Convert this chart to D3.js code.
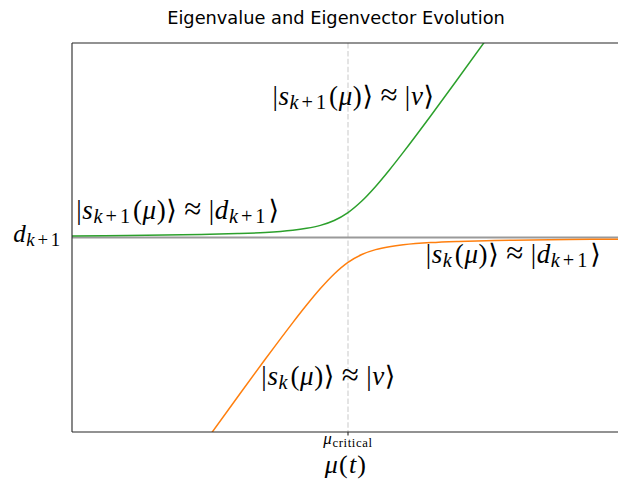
<!DOCTYPE html>
<html>
<head>
<meta charset="utf-8">
<script src="https://cdn.jsdelivr.net/npm/d3@7"></script>
<style>
  html, body { margin: 0; padding: 0; background: #fff; }
  svg { display: block; }
</style>
</head>
<body>
<svg id="chart" width="618" height="479"></svg>
<script>
// Coupling parameter samples and the two eigenvalue branches around the avoided crossing
const mu = [0, 1, 2, 2.5, 3, 3.5, 4, 4.25, 4.5, 4.75, 5, 5.25, 5.5, 5.75, 6, 6.5, 7, 7.5, 8, 9, 10];
const upperBranch = [0.0082, 0.0102, 0.0135, 0.0161, 0.0200, 0.0262, 0.0375, 0.0472, 0.0624, 0.0874, 0.128,
                     0.1874, 0.2624, 0.3472, 0.4375, 0.6262, 0.8200, 1.0161, 1.2135, 1.6102, 2.0082];
const lowerBranch = [-2.0082, -1.6102, -1.2135, -1.0161, -0.8200, -0.6262, -0.4375, -0.3472, -0.2624, -0.1874, -0.128,
                     -0.0874, -0.0624, -0.0472, -0.0375, -0.0262, -0.0200, -0.0161, -0.0135, -0.0102, -0.0082];
const dLevel = 0;          // unperturbed eigenvalue d_{k+1}
const muCritical = 5;      // centre of the avoided crossing
const xDomain = [0, 10];
const yDomain = [-1, 1];

const svg = d3.select("#chart");
const plot = { left: 72, right: 624, top: 43, bottom: 432 };

const x = d3.scaleLinear().domain(xDomain).range([plot.left, plot.right]);
const y = d3.scaleLinear().domain(yDomain).range([plot.bottom, plot.top]);

const serif = "'Liberation Serif', 'DejaVu Serif', serif";
const sans = "'DejaVu Sans', sans-serif";

// clip region for the plotted curves
svg.append("defs").append("clipPath").attr("id", "plotClip")
  .append("rect")
  .attr("x", plot.left).attr("y", plot.top)
  .attr("width", plot.right - plot.left).attr("height", plot.bottom - plot.top);

const g = svg.append("g").attr("clip-path", "url(#plotClip)");

// critical point marker
g.append("line")
  .attr("x1", x(muCritical)).attr("x2", x(muCritical))
  .attr("y1", plot.top).attr("y2", plot.bottom)
  .attr("stroke", "#dcdcdc").attr("stroke-width", 1.5)
  .attr("stroke-dasharray", "5.5,2.4");

// unperturbed level
g.append("line")
  .attr("x1", plot.left).attr("x2", plot.right)
  .attr("y1", y(dLevel)).attr("y2", y(dLevel))
  .attr("stroke", "#9a9a9a").attr("stroke-width", 1.8);

const line = d3.line().curve(d3.curveCatmullRom.alpha(0.5))
  .x((d, i) => x(mu[i])).y(d => y(d));

g.append("path").datum(upperBranch)
  .attr("d", line).attr("fill", "none")
  .attr("stroke", "#2ca02c").attr("stroke-width", 1.5);

g.append("path").datum(lowerBranch)
  .attr("d", line).attr("fill", "none")
  .attr("stroke", "#ff7f0e").attr("stroke-width", 1.5);

// axes frame (left, top, bottom spines)
const spine = "#262626";
svg.append("line").attr("x1", plot.left).attr("x2", plot.left)
  .attr("y1", plot.top).attr("y2", plot.bottom).attr("stroke", spine).attr("stroke-width", 1.1);
svg.append("line").attr("x1", plot.left).attr("x2", plot.right)
  .attr("y1", plot.top).attr("y2", plot.top).attr("stroke", spine).attr("stroke-width", 1.1);
svg.append("line").attr("x1", plot.left).attr("x2", plot.right)
  .attr("y1", plot.bottom).attr("y2", plot.bottom).attr("stroke", spine).attr("stroke-width", 1.1);

// x tick at the critical point
svg.append("line").attr("x1", x(muCritical)).attr("x2", x(muCritical))
  .attr("y1", plot.bottom).attr("y2", plot.bottom + 3.5)
  .attr("stroke", spine).attr("stroke-width", 1.1);

// Render a small math expression as tspans: [text, style]
// style: "i" italic, "r" roman, "op" relation symbol, "si" subscript italic, "sr" subscript roman
function mathText(parent, parts, px, py, size, opts) {
  const o = Object.assign({ anchor: "middle", spacing: 0.6, subSpacing: 3, subScale: 0.75, subShift: 0.15 }, opts || {});
  const t = parent.append("text")
    .attr("x", px).attr("y", py)
    .attr("text-anchor", o.anchor)
    .attr("font-family", serif)
    .attr("font-size", size)
    .attr("fill", "#000");
  let shifted = false;
  const shift = size * o.subShift;
  parts.forEach(([txt, style]) => {
    const isSub = style[0] === "s";
    const ts = t.append("tspan").text(txt);
    if (isSub && !shifted) { ts.attr("dy", shift); shifted = true; }
    else if (!isSub && shifted) { ts.attr("dy", -shift); shifted = false; }
    if (isSub) ts.attr("font-size", size * o.subScale).attr("letter-spacing", o.subSpacing);
    else ts.attr("letter-spacing", o.spacing);
    if (style === "op") ts.attr("font-size", size * 1.15);
    if (style === "i" || style === "si") ts.attr("font-style", "italic");
  });
  return t;
}

const sk1 = [["|", "r"], ["s", "i"], ["k", "si"], ["+1", "sr"], ["(", "r"], ["μ", "i"], [")", "r"], ["⟩", "r"], ["\u2009≈\u2009", "op"]];
const sk  = [["|", "r"], ["s", "i"], ["k", "si"], ["(", "r"], ["μ", "i"], [")", "r"], ["⟩", "r"], ["\u2009≈\u2009", "op"]];
const ketV = [["|", "r"], ["v", "i"], ["⟩", "r"]];
const ketD = [["|", "r"], ["d", "i"], ["k", "si"], ["+1", "sr"], ["⟩", "r"]];

const labelSize = 27;
mathText(svg, sk1.concat(ketV), x(5.1), y(0.681), labelSize);
mathText(svg, sk1.concat(ketD), x(1.92), y(0.095), labelSize);
mathText(svg, sk.concat(ketD), x(8.0), y(-0.13), labelSize);
mathText(svg, sk.concat(ketV), x(4.65), y(-0.76), labelSize);

// tick labels
mathText(svg, [["d", "i"], ["k", "si"], ["+1", "sr"]], 63, y(dLevel) + 4.5, 25, { anchor: "end", subSpacing: 2.8 });
mathText(svg, [["μ", "i"], ["critical", "sr"]], x(muCritical), 444, 17, { subSpacing: 0.6, subShift: 0.18 });

// axis label
mathText(svg, [["μ", "i"], ["(", "r"], ["t", "i"], [")", "r"]], x(muCritical) - 2, 473, 26, { spacing: 1.2 });

// title
svg.append("text")
  .attr("x", 336).attr("y", 24)
  .attr("text-anchor", "middle")
  .attr("font-family", sans).attr("font-size", 17.8)
  .attr("fill", "#000")
  .text("Eigenvalue and Eigenvector Evolution");
</script>
</body>
</html>
